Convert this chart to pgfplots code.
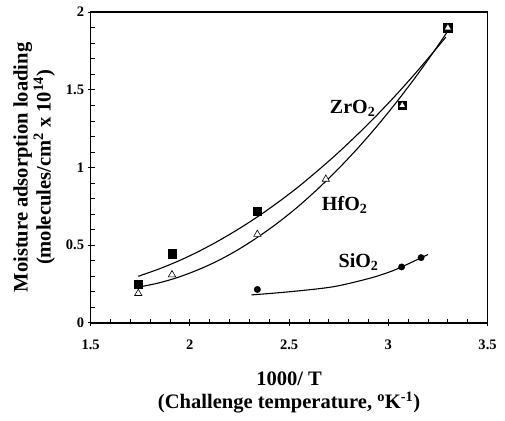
\documentclass[border=0pt]{standalone}
\usepackage{pgfplots}
\pgfplotsset{compat=1.18}
\usepackage{fontspec}
\setmainfont{Liberation Serif}

\begin{document}
\begin{tikzpicture}
\begin{axis}[
    scale only axis,
    width=396pt, height=310pt,
    xmin=1.5, xmax=3.5, ymin=0, ymax=2,
    xtick={1.5,2,2.5,3,3.5},
    ytick={0,0.5,1,1.5,2},
    minor x tick num=4,
    minor y tick num=4,
    tick align=inside,
    xtick pos=bottom, ytick pos=left,
    major tick length=7pt, minor tick length=4pt,
    tick style={black, line width=0.8pt},
    major x tick style={yshift=-3pt},
    major y tick style={xshift=-3pt},
    axis line style={line width=1.6pt},
    /pgf/number format/assume math mode=true,
    tick label style={font=\fontsize{14.5}{16}\selectfont\bfseries},
    xticklabel style={yshift=-13pt},
    yticklabel style={xshift=-3pt},
    label style={font=\fontsize{20.5}{23}\selectfont\bfseries, align=center},
    xlabel={1000/ T\\(Challenge temperature, \textsuperscript{o}K\textsuperscript{-1})},
    ylabel={Moisture adsorption loading\\(molecules/cm\textsuperscript{2} x 10\textsuperscript{14})},
    xlabel style={yshift=-16pt},
    ylabel style={yshift=4pt},
]
% fitted curves
\addplot[black, line width=1.1pt, smooth] coordinates {
    (1.74,0.300) (1.84,0.345) (1.94,0.397) (2.04,0.457) (2.14,0.525)
    (2.24,0.600) (2.34,0.682) (2.44,0.772) (2.54,0.869) (2.64,0.975)
    (2.74,1.087) (2.84,1.207) (2.94,1.334) (3.04,1.469) (3.14,1.612)
    (3.24,1.763) (3.29,1.840)
};
\addplot[black, line width=1.1pt, smooth] coordinates {
    (1.74,0.230) (1.84,0.256) (1.94,0.293) (2.04,0.341) (2.14,0.399)
    (2.24,0.469) (2.34,0.550) (2.44,0.641) (2.54,0.743) (2.64,0.857)
    (2.74,0.981) (2.84,1.116) (2.94,1.262) (3.04,1.419) (3.14,1.587)
    (3.24,1.766) (3.30,1.880)
};
\addplot[black, line width=1.1pt, smooth] coordinates {
    (2.31,0.180) (2.50,0.200) (2.72,0.232) (2.90,0.285) (3.00,0.325)
    (3.067,0.360) (3.20,0.440)
};
% ZrO2
\addplot[only marks, mark=square*, mark size=4.2pt, black] coordinates {
    (1.74,0.25) (1.91,0.445) (2.34,0.72) (3.07,1.40) (3.30,1.90)
};
% HfO2
\addplot[only marks, mark=triangle*, mark size=4.2pt, draw=black, fill=white, mark options={line width=0.6pt}] coordinates {
    (1.74,0.19) (1.91,0.31) (2.34,0.57) (2.685,0.925) (3.07,1.40) (3.30,1.90)
};
% SiO2
\addplot[only marks, mark=*, mark size=3.2pt, black] coordinates {
    (2.34,0.215) (3.067,0.36) (3.165,0.42)
};
\node[font=\fontsize{20}{22}\selectfont\bfseries] at (axis cs:2.82,1.38) {ZrO\textsubscript{2}};
\node[font=\fontsize{20}{22}\selectfont\bfseries] at (axis cs:2.78,0.76) {HfO\textsubscript{2}};
\node[font=\fontsize{20}{22}\selectfont\bfseries] at (axis cs:2.85,0.39) {SiO\textsubscript{2}};
\end{axis}
\path (current bounding box.south west) ++(-10pt,-4pt) coordinate (padl);
\path (padl) -- (current bounding box.north east) ++(5pt,4pt);
\end{tikzpicture}
\end{document}
